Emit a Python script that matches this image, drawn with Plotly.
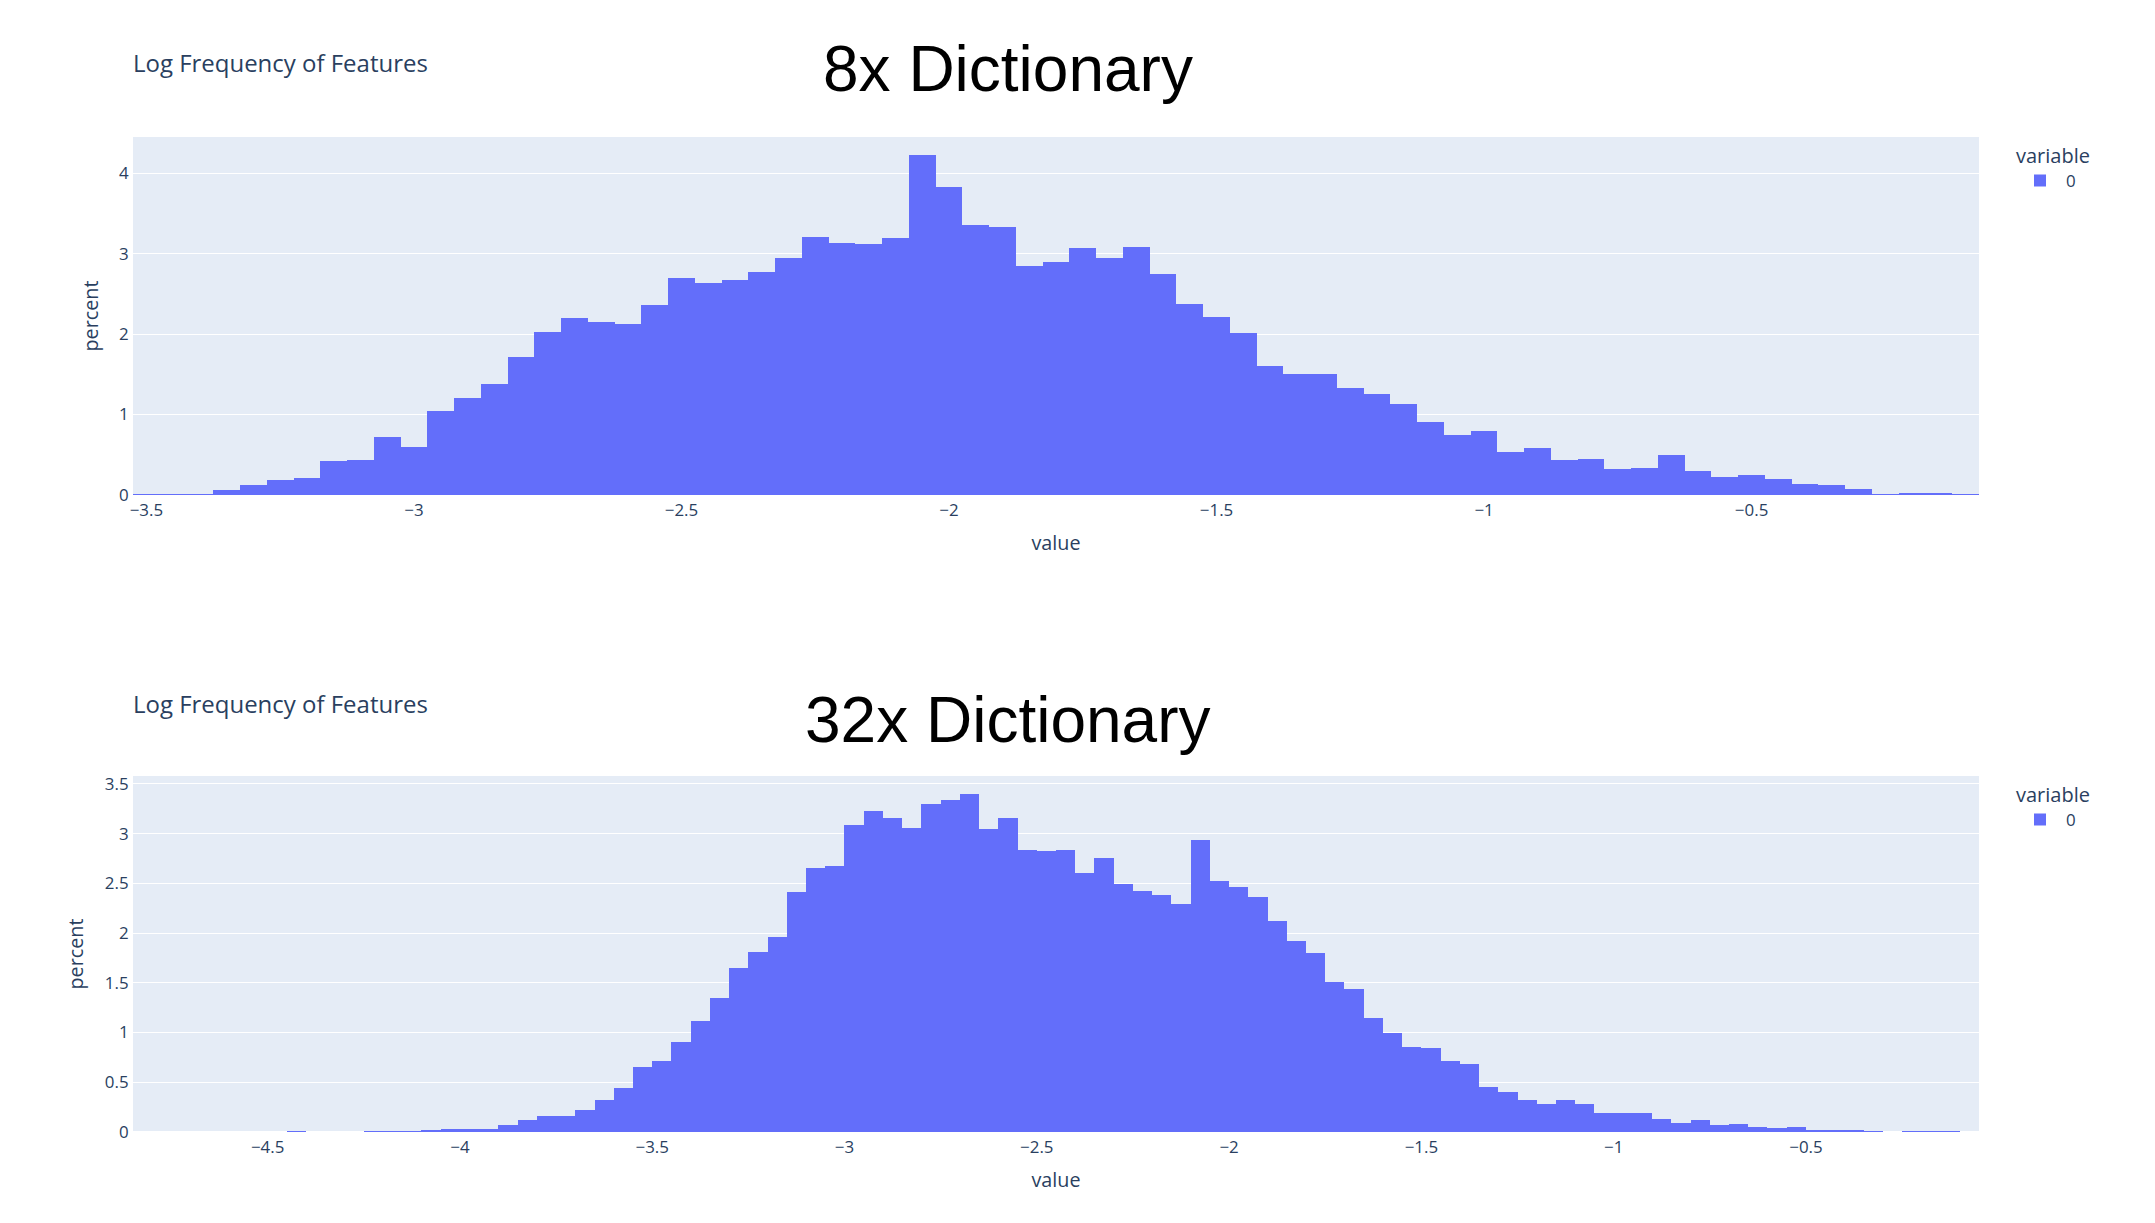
"""
plot.py
Log frequency of features, 8x vs 32x dictionary
"""

import plotly.graph_objects as go

W, H = 2155, 1223

# 8x dictionary: percent per bin, bins of 0.05 centred from -3.5
pct_8x = [
    0.01, 0.01, 0.01, 0.06, 0.12, 0.19, 0.21, 0.42, 0.44, 0.72,
    0.60, 1.05, 1.21, 1.38, 1.71, 2.02, 2.20, 2.15, 2.13, 2.36,
    2.70, 2.64, 2.67, 2.77, 2.94, 3.21, 3.13, 3.12, 3.20, 4.23,
    3.83, 3.36, 3.33, 2.85, 2.90, 3.07, 2.95, 3.08, 2.75, 2.37,
    2.21, 2.01, 1.60, 1.50, 1.51, 1.33, 1.26, 1.13, 0.91, 0.74,
    0.79, 0.54, 0.59, 0.44, 0.45, 0.32, 0.34, 0.50, 0.30, 0.22,
    0.25, 0.20, 0.14, 0.12, 0.07, 0.005, 0.02, 0.02, 0.005,
]
start_8x = -3.5
range_8x = [-3.525, -0.075]

# 32x dictionary: percent per bin, bins of 0.05 centred from -4.825
pct_32x = [
    0, 0, 0, 0, 0, 0, 0, 0, 0.007, 0,
    0, 0, 0.007, 0.007, 0.007, 0.017, 0.03, 0.03, 0.03, 0.07,
    0.12, 0.16, 0.16, 0.22, 0.32, 0.44, 0.65, 0.71, 0.91, 1.12,
    1.35, 1.65, 1.81, 1.96, 2.41, 2.65, 2.68, 3.09, 3.23, 3.16,
    3.06, 3.30, 3.34, 3.40, 3.05, 3.16, 2.84, 2.83, 2.84, 2.60,
    2.76, 2.49, 2.42, 2.38, 2.29, 2.94, 2.52, 2.46, 2.36, 2.12,
    1.92, 1.80, 1.51, 1.44, 1.15, 1.00, 0.85, 0.84, 0.71, 0.68,
    0.45, 0.40, 0.32, 0.28, 0.32, 0.28, 0.19, 0.19, 0.19, 0.13,
    0.09, 0.12, 0.07, 0.08, 0.05, 0.04, 0.05, 0.015, 0.025, 0.015,
    0.005, 0, 0.005, 0.005, 0.005, 0,
]
start_32x = -4.825
range_32x = [-4.85, -0.05]

bin_size = 0.05

panel_titles = ["8x Dictionary", "32x Dictionary"]
sub_title = "Log Frequency of Features"

# screenshot was scaled up ~1.41x, so plotly default sizes are scaled too
S = 1.41
FONT = '"Open Sans", verdana, arial, sans-serif'
TXT = "#2a3f5f"


def px2x(px):
    return px / W


def px2y(py):
    return 1 - py / H


fig = go.Figure()

fig.add_trace(
    go.Bar(
        x0=start_8x,
        dx=bin_size,
        y=pct_8x,
        width=bin_size,
        marker_color="#636efa",
        marker_line_width=0,
        name="0",
        showlegend=True,
        legend="legend",
        xaxis="x",
        yaxis="y",
    )
)

fig.add_trace(
    go.Bar(
        x0=start_32x,
        dx=bin_size,
        y=pct_32x,
        width=bin_size,
        marker_color="#636efa",
        marker_line_width=0,
        name="0",
        showlegend=True,
        legend="legend2",
        xaxis="x2",
        yaxis="y2",
    )
)

x_dom = [px2x(133), px2x(1979)]

axis_common = dict(
    automargin=False,
    gridcolor="white",
    gridwidth=1.4,
    linecolor="white",
    zerolinecolor="white",
    zerolinewidth=2.8,
    tickfont=dict(size=12 * S, color=TXT),
    title_font=dict(size=14 * S, color=TXT),
)

legend_common = dict(
    xanchor="left",
    yanchor="top",
    title_text="variable",
    font=dict(size=12 * S),
    tracegroupgap=0,
    itemwidth=42,
)

fig.update_layout(
    template="plotly",
    width=W,
    height=H,
    margin=dict(l=0, r=0, t=0, b=0),
    bargap=0,
    showlegend=True,
    font=dict(family=FONT, color=TXT, size=12 * S),
    paper_bgcolor="white",
    plot_bgcolor="#E5ECF6",
    xaxis=dict(
        domain=x_dom, anchor="y", range=range_8x, dtick=0.5, showgrid=False,
        title_text="value", **axis_common,
    ),
    yaxis=dict(
        domain=[px2y(495), px2y(137)], anchor="x", range=[0, 4.45], dtick=1,
        title_text="percent", **axis_common,
    ),
    xaxis2=dict(
        domain=x_dom, anchor="y2", range=range_32x, dtick=0.5, showgrid=False,
        title_text="value", **axis_common,
    ),
    yaxis2=dict(
        domain=[px2y(1132), px2y(776)], anchor="x2", range=[0, 3.58], dtick=0.5,
        title_text="percent", **axis_common,
    ),
    legend=dict(x=px2x(2014), y=px2y(137), **legend_common),
    legend2=dict(x=px2x(2014), y=px2y(776), **legend_common),
)

# small plotly-style titles, top left of each panel
for yc in [62, 703]:
    fig.add_annotation(
        text=sub_title,
        xref="paper", yref="paper",
        x=px2x(131), y=px2y(yc),
        xanchor="left", yanchor="middle",
        showarrow=False,
        font=dict(family=FONT, size=17 * S, color=TXT),
    )

# big black panel labels
for label, yc in zip(panel_titles, [69, 720]):
    fig.add_annotation(
        text=label,
        xref="paper", yref="paper",
        x=px2x(1008), y=px2y(yc),
        xanchor="center", yanchor="middle",
        showarrow=False,
        font=dict(family="Liberation Sans, Arial, sans-serif", size=64, color="black"),
    )

fig.write_html(
    "out.html",
    config={"displayModeBar": False},
    post_script="document.body.style.margin='0';",
)
